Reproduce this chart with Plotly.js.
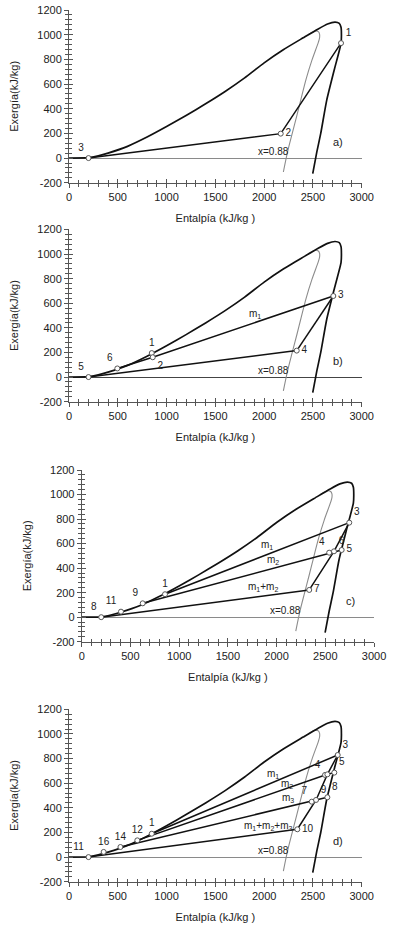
<!DOCTYPE html>
<html>
<head>
<meta charset="utf-8">
<script src="https://cdn.plot.ly/plotly-3.0.1.min.js"></script>
<style>html,body{margin:0;padding:0;background:#fff;}#chart{width:393px;height:930px;}</style>
</head>
<body>
<div id="chart"></div>
<script>
// ---------- data ----------
// saturation curve (enthalpy kJ/kg, exergy kJ/kg)
const domeH  = [0, 200, 300, 400, 600, 800, 1000, 1200, 1400, 1600, 1800, 2000, 2200, 2400, 2550, 2650, 2727, 2770, 2788, 2792, 2788, 2720, 2641, 2580, 2540, 2498];
const domeEx = [0, 3, 18, 40, 95, 170, 255, 345, 440, 540, 650, 772, 880, 975, 1045, 1087, 1102, 1092, 1060, 1000, 930, 720, 468, 200, 50, -126];
// quality line x = 0.88
const x88H  = [2450, 2495, 2530, 2555, 2568, 2568, 2556, 2489, 2430, 2375, 2337, 2288, 2240, 2197];
const x88Ex = [1000, 1022, 1031, 1025, 1005, 975, 940, 792, 640, 470, 350, 200, 50, -113];

// panel a)
const aPtName = ['1', '2', '3'];
const aPtH    = [2788, 2170, 200];
const aPtEx   = [932, 198, 0];
const aPaths  = [['3', '2', '1']];

// panel b)
const bPtName = ['1', '2', '3', '4', '5', '6'];
const bPtH    = [848, 858, 2709, 2334, 200, 495];
const bPtEx   = [195, 161, 659, 215, 0, 70];
const bPaths  = [['6', '2', '3'], ['3', '4'], ['4', '5']];

// panel c)
const cPtName = ['1', '3', '4', '5', '6', '7', '8', '9', '11'];
const cPtH    = [855, 2746, 2540, 2668, 2589, 2335, 200, 626, 403];
const cPtEx   = [187, 771, 526, 548, 537, 222, 0, 113, 45];
const cPaths  = [['1', '3'], ['9', '4', '6', '5'], ['3', '6', '7'], ['8', '7']];

// panel d)  ('6' is the unlabelled point between 4 and 5)
const dPtName = ['1', '3', '4', '6', '5', '7', '9', '8', '10', '11', '12', '14', '16'];
const dPtH    = [848, 2754, 2624, 2648, 2719, 2488, 2532, 2648, 2340, 200, 700, 527, 355];
const dPtEx   = [190, 829, 667, 672, 686, 450, 464, 486, 226, 0, 136, 82, 42];
const dPaths  = [['1', '3'], ['12', '4', '6', '5'], ['14', '7', '9', '8'], ['3', '6', '9', '10'], ['11', '10']];
const dHidden = ['6'];

const xTickVals = [0, 500, 1000, 1500, 2000, 2500, 3000];
const xTickText = ['0', '500', '1000', '1500', '2000', '2500', '3000'];
const yTickVals = [-200, 0, 200, 400, 600, 800, 1000, 1200];
const yTickText = ['-200', '0', '200', '400', '600', '800', '1000', '1200'];

// ---------- styling / layout ----------
const FONT = 'Liberation Sans, Arial, sans-serif';
const panels = [
  {tag: 'a)', n: 1, names: aPtName, h: aPtH, ex: aPtEx, paths: aPaths, hidden: [],
   dx: [0.1756, 0.9204], dy: [0.8035, 0.9892],
   pos: ['top right', 'middle right', 'top left'],
   notes: []},
  {tag: 'b)', n: 2, names: bPtName, h: bPtH, ex: bPtEx, paths: bPaths, hidden: [],
   dx: [0.1756, 0.9204], dy: [0.5681, 0.7533],
   pos: ['top center', 'bottom right', 'middle right', 'middle right', 'top left', 'top left'],
   notes: [{t: 'm<sub>1</sub>', x: 1907, y: 513}]},
  {tag: 'c)', n: 3, names: cPtName, h: cPtH, ex: cPtEx, paths: cPaths, hidden: [],
   dx: [0.2079, 0.9517], dy: [0.3100, 0.4946],
   pos: ['top center', 'top right', 'top left', 'middle right', 'top right', 'middle right', 'top left', 'top left', 'top left'],
   notes: [{t: 'm<sub>1</sub>', x: 1898, y: 589}, {t: 'm<sub>2</sub>', x: 1966, y: 466}, {t: 'm<sub>1</sub>+m<sub>2</sub>', x: 1863, y: 249}]},
  {tag: 'd)', n: 4, names: dPtName, h: dPtH, ex: dPtEx, paths: dPaths, hidden: dHidden,
   dx: [0.1756, 0.9204], dy: [0.0519, 0.2373],
   pos: ['top center', 'top right', 'top left', 'top right', 'top right', 'top left', 'top right', 'top right', 'middle right', 'top left', 'top center', 'top center', 'top center'],
   notes: [{t: 'm<sub>1</sub>', x: 2094, y: 675}, {t: 'm<sub>2</sub>', x: 2231, y: 594}, {t: 'm<sub>3</sub>', x: 2248, y: 477}, {t: 'm<sub>1</sub>+m<sub>2</sub>+m<sub>3</sub>', x: 2043, y: 253}]}
];

const traces = [];
const layout = {
  width: 393, height: 930,
  margin: {l: 0, r: 0, t: 0, b: 0},
  paper_bgcolor: '#fff', plot_bgcolor: 'rgba(0,0,0,0)',
  showlegend: false,
  font: {family: FONT, size: 11, color: '#222'},
  annotations: []
};

panels.forEach(p => {
  const xa = p.n === 1 ? 'x' : 'x' + p.n;
  const ya = p.n === 1 ? 'y' : 'y' + p.n;
  const ox = 'x' + (p.n + 4), oy = 'y' + (p.n + 4);
  const xKey = p.n === 1 ? 'xaxis' : 'xaxis' + p.n;
  const yKey = p.n === 1 ? 'yaxis' : 'yaxis' + p.n;

  layout[xKey] = {
    domain: p.dx, anchor: ya, range: [0, 3000],
    tickmode: 'array', tickvals: xTickVals, ticktext: xTickText,
    ticks: 'outside', ticklen: 4, tickwidth: 1, tickcolor: '#555',
    minor: {dtick: 100, tick0: 0, ticks: 'outside', ticklen: 3, tickcolor: '#555', showgrid: false},
    showline: true, linecolor: '#555', linewidth: 1,
    showgrid: false, zeroline: false,
    tickfont: {family: FONT, size: 11, color: '#222'},
    title: {text: 'Entalpía (kJ/kg )', font: {family: FONT, size: 11, color: '#222'}, standoff: 12}
  };
  layout[yKey] = {
    domain: p.dy, anchor: xa, range: [-200, 1200],
    tickmode: 'array', tickvals: yTickVals, ticktext: yTickText,
    ticks: 'outside', ticklen: 4, tickwidth: 1, tickcolor: '#555',
    minor: {dtick: 40, tick0: 0, ticks: 'outside', ticklen: 3, tickcolor: '#555', showgrid: false},
    showline: true, linecolor: '#555', linewidth: 1,
    showgrid: false, zeroline: true, zerolinecolor: (p.n === 2 ? '#444' : '#8a8a8a'), zerolinewidth: 1,
    tickfont: {family: FONT, size: 11, color: '#222'},
    title: {text: 'Exergía(kJ/kg)', font: {family: FONT, size: 11, color: '#222'}, standoff: 16}
  };
  // inner half of the crossing ticks
  layout['xaxis' + (p.n + 4)] = {
    domain: p.dx, anchor: ya, overlaying: xa, range: [0, 3000], side: 'bottom',
    tickmode: 'array', tickvals: xTickVals, ticks: 'inside', ticklen: 4, tickcolor: '#555',
    minor: {dtick: 100, tick0: 0, ticks: 'inside', ticklen: 3, tickcolor: '#555'},
    showticklabels: false, showline: false, showgrid: false, zeroline: false
  };
  layout['yaxis' + (p.n + 4)] = {
    domain: p.dy, anchor: xa, overlaying: ya, range: [-200, 1200], side: 'left',
    tickmode: 'array', tickvals: yTickVals, ticks: 'inside', ticklen: 4, tickcolor: '#555',
    minor: {dtick: 40, tick0: 0, ticks: 'inside', ticklen: 3, tickcolor: '#555'},
    showticklabels: false, showline: false, showgrid: false, zeroline: false
  };
  traces.push({x: [null], y: [null], xaxis: ox, yaxis: ya, type: 'scatter', mode: 'lines', hoverinfo: 'skip'});
  traces.push({x: [null], y: [null], xaxis: xa, yaxis: oy, type: 'scatter', mode: 'lines', hoverinfo: 'skip'});

  // x = 0.88 line
  traces.push({x: x88H, y: x88Ex, xaxis: xa, yaxis: ya, type: 'scatter', mode: 'lines',
    line: {color: '#8c8c8c', width: 1.1, shape: 'spline', smoothing: 0.8}, hoverinfo: 'skip'});
  // saturation curve
  traces.push({x: domeH, y: domeEx, xaxis: xa, yaxis: ya, type: 'scatter', mode: 'lines',
    line: {color: '#111', width: 1.7, shape: 'spline', smoothing: 0.5}, hoverinfo: 'skip'});
  // cycle lines
  p.paths.forEach(path => {
    const xs = path.map(nm => p.h[p.names.indexOf(nm)]);
    const ys = path.map(nm => p.ex[p.names.indexOf(nm)]);
    traces.push({x: xs, y: ys, xaxis: xa, yaxis: ya, type: 'scatter', mode: 'lines',
      line: {color: '#111', width: 1.5}, hoverinfo: 'skip'});
  });
  // labels of the state points (invisible sized markers give the label offset)
  const li = p.names.map((nm, i) => i).filter(i => p.hidden.indexOf(p.names[i]) < 0);
  traces.push({x: li.map(i => p.h[i]), y: li.map(i => p.ex[i]), text: li.map(i => p.names[i]),
    textposition: li.map(i => p.pos[i]), xaxis: xa, yaxis: ya,
    type: 'scatter', mode: 'markers+text', cliponaxis: false,
    marker: {size: 6, opacity: 0},
    textfont: {family: FONT, size: 10, color: '#222'}, hoverinfo: 'skip'});
  // state points (open circles)
  traces.push({x: p.h, y: p.ex, xaxis: xa, yaxis: ya,
    type: 'scatter', mode: 'markers', cliponaxis: false,
    marker: {size: 5, color: '#fff', line: {color: '#555', width: 1}}, hoverinfo: 'skip'});

  // texts
  p.notes.forEach(nt => layout.annotations.push({
    xref: xa, yref: ya, x: nt.x, y: nt.y, text: nt.t, showarrow: false,
    font: {family: FONT, size: 10, color: '#222'}}));
  layout.annotations.push({xref: xa, yref: ya, x: 2094, y: 52, text: 'x=0.88', showarrow: false,
    font: {family: FONT, size: 10, color: '#222'}});
  layout.annotations.push({xref: xa, yref: ya, x: 2760, y: 128, text: p.tag, showarrow: false,
    font: {family: FONT, size: 11, color: '#222'}});
});

Plotly.newPlot('chart', traces, layout, {staticPlot: true, displayModeBar: false});
</script>
</body>
</html>
